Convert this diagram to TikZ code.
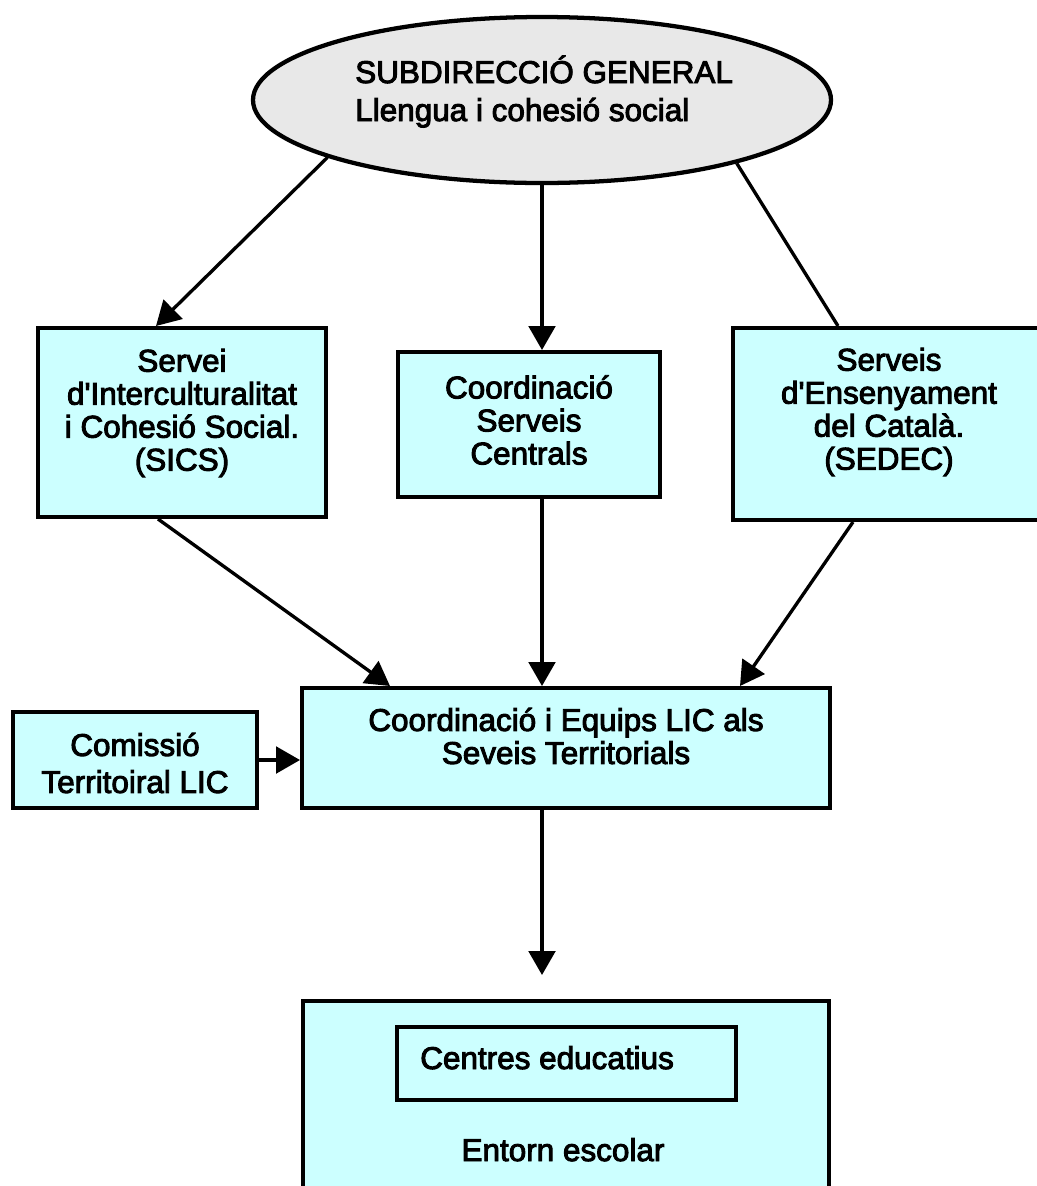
\documentclass[tikz,border=0pt]{standalone}
\usepackage{fontspec}
\setmainfont{Liberation Sans}[Ligatures=TeXOff,FakeBold=3]
\usetikzlibrary{shapes.geometric,arrows.meta,calc}
\definecolor{boxc}{HTML}{CCFFFF}
\definecolor{ellc}{HTML}{E8E8E8}
\begin{document}
\begin{tikzpicture}[x=0.75pt,y=-0.75pt,
  box/.style={draw=black,line width=3pt,fill=boxc,inner sep=0pt},
  txt/.style={font=\fontsize{23.6}{24.75}\selectfont,align=center,inner sep=0pt},
  conn/.style={line width=2.5pt},
  arr/.style={conn,-{Triangle[length=18pt,width=20pt]}}]
\useasboundingbox (0,0) rectangle (1036,1186);
% top ellipse
\node[ellipse,draw=black,line width=3.2pt,fill=ellc,minimum width=433.5pt,minimum height=124.5pt,inner sep=0pt] (ell) at (542,100) {};
\node[txt,anchor=base west] (t1) at (355,83) {SUBDIRECCIÓ GENERAL};
\node[txt,anchor=base west] (t2) at (355,121) {Llengua i cohesió social};
% second row
\node[box,minimum width=216pt,minimum height=141.75pt] (sics) at (182,422.5) {};
\node[txt] (sicsT) at (182,413) {Servei\\d'Interculturalitat\\i Cohesió Social.\\(SICS)};
\node[box,minimum width=197pt,minimum height=108.75pt] (coord) at (529,424.5) {};
\node[txt] (coordT) at (529,420) {Coordinació\\Serveis\\Centrals};
\node[box,minimum width=234pt,minimum height=144pt] (sedec) at (889,424) {};
\node[txt] (sedecT) at (889,412) {Serveis\\d'Ensenyament\\del Català.\\(SEDEC)};
% third row
\node[box,minimum width=396pt,minimum height=90pt] (lic) at (566,748) {};
\node[txt] (licT) at (566,736) {Coordinació i Equips LIC als\\Seveis Territorials};
\node[box,minimum width=183pt,minimum height=72pt] (com) at (135,760) {};
\node[txt,font=\fontsize{23.6}{27.75}\selectfont] (comT) at (135,763) {Comissió\\Territoiral LIC};
% bottom
\node[box,minimum width=394.5pt,minimum height=149.25pt] (bot) at (566,1100.5) {};
\node[box,minimum width=254.25pt,minimum height=54.75pt] (inner) at (566.5,1063.5) {};
\node[txt,anchor=base west] (innerT) at (420,1069) {Centres educatius};
\node[txt,anchor=base] (botT) at (563,1161) {Entorn escolar};
% connectors
\draw[arr] (ell.195) -- ($(sics.north west)+(120,0)$);
\draw[arr] (ell.south) -- (ell.south |- coord.north);
\draw[conn] (ell.342.5) -- ($(sedec.north west)+(107,0)$);
\draw[arr] ($(sics.south west)+(122,0)$) -- ($(lic.north west)+(90,0)$);
\draw[arr] (ell.south |- coord.south) -- (ell.south |- lic.north);
\draw[arr] ($(sedec.south west)+(122,0)$) -- ($(lic.north east)+(-92,0)$);
\draw[arr] (com.east) -- (com.east -| lic.west);
\coordinate (dn) at (542,975);
\draw[arr] (ell.south |- lic.south) -- (dn);
\end{tikzpicture}
\end{document}
